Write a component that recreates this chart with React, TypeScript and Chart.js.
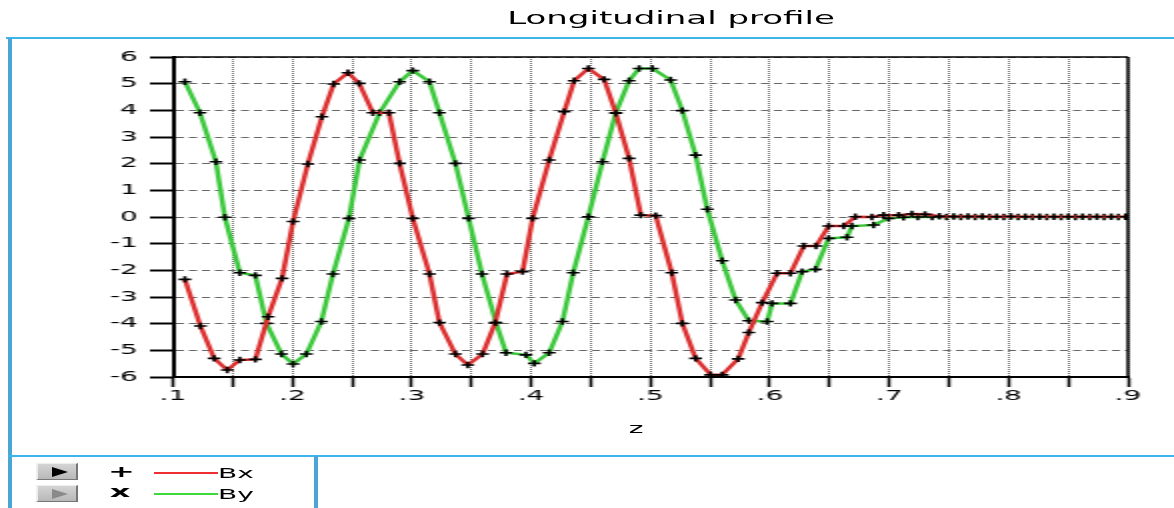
import React, { useEffect, useRef } from "react";
import { Chart, registerables } from "chart.js";

Chart.register(...registerables);

const chartTitle = "Longitudinal profile";
const xAxisTitle = "z";
const seriesNames = ["Bx", "By"];

const bxZ = [
  0.110, 0.123, 0.1345, 0.1455, 0.156, 0.169, 0.1797, 0.1914, 0.2006, 0.213,
  0.2248, 0.2346, 0.2466, 0.256, 0.2675, 0.2809, 0.2898, 0.3009, 0.3149, 0.3232,
  0.3366, 0.347, 0.3594, 0.370, 0.3798, 0.3929, 0.4013, 0.4152, 0.4278, 0.4361,
  0.448, 0.4612, 0.471, 0.4821, 0.4919, 0.5044, 0.5178, 0.5267, 0.5378, 0.5504,
  0.5601, 0.5735, 0.5824, 0.5936, 0.6061, 0.6173, 0.6284, 0.6387, 0.6493, 0.6619,
  0.6716, 0.6855, 0.6953, 0.7079, 0.719, 0.730, 0.742, 0.754, 0.766, 0.778,
  0.790, 0.802, 0.814, 0.826, 0.838, 0.850, 0.862, 0.874, 0.886, 0.898,
];
const bxValues = [
  -2.34, -4.09, -5.3, -5.74, -5.36, -5.34, -3.74, -2.3, -0.17, 1.99,
  3.76, 4.99, 5.41, 5.01, 3.91, 3.91, 2.01, -0.05, -2.14, -3.96,
  -5.14, -5.55, -5.14, -3.96, -2.14, -2.05, -0.05, 2.14, 3.95, 5.11,
  5.57, 5.16, 3.89, 2.2, 0.07, 0.05, -2.09, -3.99, -5.3, -5.92,
  -5.92, -5.32, -4.33, -3.21, -2.11, -2.11, -1.09, -1.09, -0.34, -0.34,
  0.01, 0.0, 0.07, 0.07, 0.11, 0.1, 0.03, 0.02, 0.02, 0.02,
  0.01, 0.02, 0.01, 0.01, 0.01, 0.01, 0.01, 0.01, 0.01, 0.01,
];

const byZ = [
  0.110, 0.1226, 0.136, 0.1435, 0.156, 0.169, 0.1783, 0.1909, 0.2006, 0.2118,
  0.2243, 0.234, 0.2474, 0.2563, 0.2731, 0.2898, 0.3009, 0.3149, 0.3232, 0.3366,
  0.3477, 0.3589, 0.3706, 0.379, 0.3957, 0.4027, 0.4152, 0.4263, 0.4353, 0.448,
  0.4598, 0.471, 0.4821, 0.4905, 0.5016, 0.5169, 0.5267, 0.5378, 0.5476, 0.5601,
  0.5713, 0.5824, 0.5978, 0.6019, 0.6173, 0.627, 0.6382, 0.6493, 0.6646, 0.6688,
  0.6869, 0.6995, 0.712, 0.724, 0.736, 0.748, 0.760, 0.772, 0.784, 0.796,
  0.808, 0.820, 0.832, 0.844, 0.856, 0.868, 0.880, 0.892, 0.900,
];
const byValues = [
  5.07, 3.91, 2.07, -0.01, -2.09, -2.19, -3.99, -5.14, -5.51, -5.14,
  -3.92, -2.14, -0.05, 2.14, 3.91, 5.07, 5.49, 5.07, 3.91, 2.01,
  -0.05, -2.14, -3.96, -5.09, -5.17, -5.49, -5.09, -3.92, -2.09, 0.01,
  2.07, 3.91, 5.11, 5.57, 5.57, 5.14, 3.99, 2.32, 0.29, -1.64,
  -3.11, -3.89, -3.92, -3.24, -3.24, -2.05, -1.96, -0.8, -0.76, -0.34,
  -0.3, -0.05, -0.01, 0.0, 0.0, 0.0, 0.0, 0.0, 0.0, 0.0,
  0.0, 0.0, 0.0, 0.0, 0.0, 0.0, 0.0, 0.0, 0.0,
];

const xTickValues = [
  0.1, 0.15, 0.2, 0.25, 0.3, 0.35, 0.4, 0.45, 0.5, 0.55, 0.6, 0.65, 0.7, 0.75, 0.8, 0.85, 0.9,
];
const xTickLabels = [
  ".1", "", ".2", "", ".3", "", ".4", "", ".5", "", ".6", "", ".7", "", ".8", "", ".9",
];
const yTickValues = [-6, -5, -4, -3, -2, -1, 0, 1, 2, 3, 4, 5, 6];
const yTickLabels = ["-6", "-5", "-4", "-3", "-2", "-1", "0", "1", "2", "3", "4", "5", "6"];

const W = 587;
const H = 508;
const FONT = "'DejaVu Sans', 'Liberation Sans', sans-serif";

const framePlugin = {
  id: "frame",
  afterDraw(chart: any) {
    const { ctx, chartArea } = chart;
    ctx.save();
    ctx.strokeStyle = "#000";
    ctx.lineWidth = 1.5;
    ctx.beginPath();
    ctx.moveTo(chartArea.left, chartArea.top);
    ctx.lineTo(chartArea.right, chartArea.top);
    ctx.stroke();
    ctx.beginPath();
    ctx.moveTo(chartArea.right, chartArea.top);
    ctx.lineTo(chartArea.right, chartArea.bottom);
    ctx.stroke();
    ctx.restore();
  },
};

function LegendButton({ top, dim }: { top: number; dim: boolean }) {
  return (
    <div
      style={{
        position: "absolute",
        left: 17.5,
        top,
        width: 21.5,
        height: 17,
        boxSizing: "border-box",
        background: "linear-gradient(#d4d4d4, #b8b8b8)",
        borderTop: "1px solid #eee",
        borderLeft: "1px solid #eee",
        borderRight: "1px solid #777",
        borderBottom: "1px solid #777",
      }}
    >
      <div
        style={{
          position: "absolute",
          left: 7,
          top: 2.5,
          width: 0,
          height: 0,
          borderLeft: `8px solid ${dim ? "#8a8a8a" : "#000"}`,
          borderTop: "5.5px solid transparent",
          borderBottom: "5.5px solid transparent",
        }}
      />
    </div>
  );
}

export default function App() {
  const canvasRef = useRef<HTMLCanvasElement | null>(null);

  useEffect(() => {
    const canvas = canvasRef.current;
    if (!canvas) return;
    Chart.defaults.font.family = FONT;
    const chart = new Chart(canvas, {
      type: "line",
      data: {
        datasets: [
          {
            label: seriesNames[0],
            data: bxZ.map((z, i) => ({ x: z, y: bxValues[i] })),
            borderColor: "#dc3030",
            borderWidth: 2.5,
            pointStyle: "cross",
            pointRadius: 3.2,
            pointBorderColor: "#000",
            pointBackgroundColor: "#000",
            pointBorderWidth: 1.6,
            tension: 0,
            fill: false,
          },
          {
            label: seriesNames[1],
            data: byZ.map((z, i) => ({ x: z, y: byValues[i] })),
            borderColor: "#3cc83c",
            borderWidth: 2.5,
            pointStyle: "cross",
            pointRadius: 3.2,
            pointBorderColor: "#000",
            pointBackgroundColor: "#000",
            pointBorderWidth: 1.6,
            tension: 0,
            fill: false,
          },
        ],
      },
      options: {
        responsive: false,
        animation: false,
        devicePixelRatio: 1,
        events: [],
        layout: { padding: { left: 36.5, right: 23, top: 57, bottom: 91 } },
        plugins: {
          legend: { display: false },
          title: { display: false },
          tooltip: { enabled: false },
        },
        scales: {
          x: {
            type: "linear",
            min: 0.1,
            max: 0.9,
            afterFit: (s: any) => {
              s.height = 40;
            },
            afterBuildTicks: (s: any) => {
              s.ticks = xTickValues.map((v) => ({ value: v }));
            },
            ticks: {
              autoSkip: false,
              maxRotation: 0,
              minRotation: 0,
              padding: 1,
              color: "#000",
              font: { size: 14, family: FONT },
              callback: (_v: any, i: number) => xTickLabels[i],
            },
            grid: {
              color: "#6e6e6e",
              lineWidth: 1,
              tickLength: 10,
              tickColor: "#000",
              tickWidth: 1.5,
              tickBorderDash: [],
            },
            border: { color: "#000", width: 2, dash: [1, 1] },
          },
          y: {
            type: "linear",
            min: -6,
            max: 6,
            afterFit: (s: any) => {
              s.width = 50;
            },
            afterBuildTicks: (s: any) => {
              s.ticks = yTickValues.map((v) => ({ value: v }));
            },
            ticks: {
              padding: 6,
              color: "#000",
              font: { size: 14, family: FONT },
              callback: (_v: any, i: number) => yTickLabels[i],
            },
            grid: {
              color: "#666666",
              lineWidth: 1,
              tickLength: 11.5,
              tickColor: "#000",
              tickWidth: 2,
              tickBorderDash: [],
            },
            border: { color: "#000", width: 2, dash: [4, 2.5] },
          },
        },
      },
      plugins: [framePlugin],
    } as any);
    return () => chart.destroy();
  }, []);

  return (
    <div
      style={{
        position: "fixed",
        left: 0,
        top: 0,
        width: W,
        height: H,
        background: "#fff",
        transform: "scaleX(2)",
        transformOrigin: "0 0",
        overflow: "hidden",
        fontFamily: FONT,
        color: "#000",
      }}
    >
      <canvas ref={canvasRef} width={W} height={H} style={{ position: "absolute", left: 0, top: 0 }} />
      <div
        style={{
          position: "absolute",
          left: 0,
          top: 9.5,
          width: 671,
          textAlign: "center",
          fontSize: 17,
          lineHeight: "17px",
          whiteSpace: "nowrap",
        }}
      >
        {chartTitle}
      </div>
      <div
        style={{
          position: "absolute",
          left: 308,
          top: 421,
          width: 20,
          textAlign: "center",
          fontSize: 14,
          lineHeight: "14px",
        }}
      >
        {xAxisTitle}
      </div>
      {/* frame lines */}
      <div style={{ position: "absolute", left: 2.5, top: 37, width: W - 2.5, height: 2, background: "#3cb4ec" }} />
      <div style={{ position: "absolute", left: 4, top: 38, width: 1.5, height: H - 38, background: "#4aa6d6" }} />
      <div style={{ position: "absolute", left: 4, top: 455, width: W - 4, height: 2, background: "#3cb4ec" }} />
      <div style={{ position: "absolute", left: 157, top: 456, width: 1.5, height: H - 456, background: "#4aa6d6" }} />
      {/* legend */}
      <LegendButton top={463} dim={false} />
      <LegendButton top={485} dim={true} />
      <div
        style={{
          position: "absolute",
          left: 54,
          top: 464,
          width: 12,
          textAlign: "center",
          fontSize: 16,
          fontWeight: "bold",
          lineHeight: "16px",
        }}
      >
        +
      </div>
      <div
        style={{
          position: "absolute",
          left: 54,
          top: 484,
          width: 12,
          textAlign: "center",
          fontSize: 16,
          fontWeight: "bold",
          lineHeight: "16px",
        }}
      >
        x
      </div>
      <div style={{ position: "absolute", left: 77, top: 472, width: 32, height: 2, backgroundColor: "rgb(238, 48, 48)" }} />
      <div style={{ position: "absolute", left: 77, top: 493, width: 32, height: 2, backgroundColor: "rgb(60, 216, 60)" }} />
      <div style={{ position: "absolute", left: 109, top: 466, fontSize: 14, lineHeight: "14px" }}>{seriesNames[0]}</div>
      <div style={{ position: "absolute", left: 109, top: 487, fontSize: 14, lineHeight: "14px" }}>{seriesNames[1]}</div>
    </div>
  );
}
